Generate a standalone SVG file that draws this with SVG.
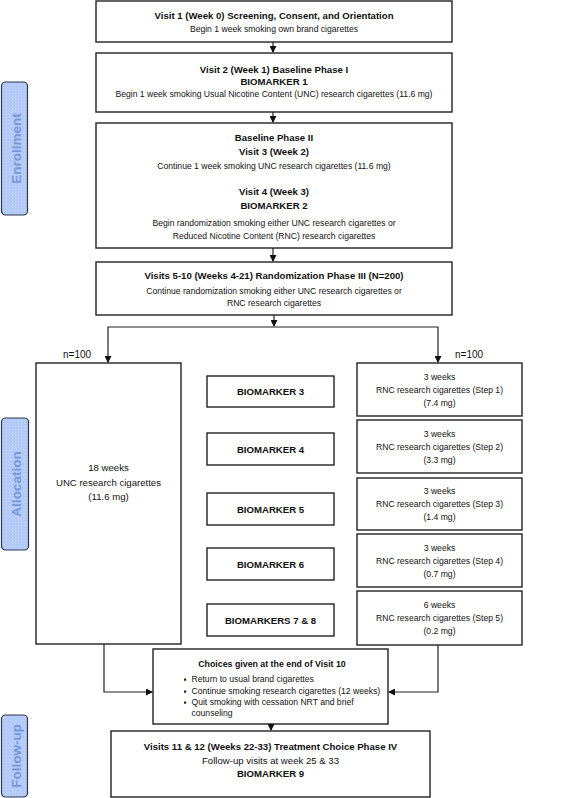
<svg xmlns="http://www.w3.org/2000/svg" width="567" height="798" viewBox="0 0 567 798">
<defs>
<marker id="ah" markerWidth="7" markerHeight="7" refX="6" refY="3.5" orient="auto" markerUnits="userSpaceOnUse">
<path d="M0,0 L7,3.5 L0,7 Z" fill="#111"/>
</marker>
<pattern id="dots" width="3" height="3" patternUnits="userSpaceOnUse">
<rect width="3" height="3" fill="#b3c9f6"/>
<rect width="1" height="1" fill="#c6d6f8"/>
</pattern>
</defs>
<style>
.box{fill:#fff;stroke:#222;stroke-width:1.4}
.side{fill:url(#dots);stroke:#2b3652;stroke-width:1.2}
.sidet{font-family:"Liberation Sans",Arial,sans-serif;font-weight:bold;font-size:13.5px;fill:#7398dc;text-anchor:middle}
text{font-family:"Liberation Sans",Arial,Helvetica,sans-serif;fill:#111}
.b{font-weight:bold;font-size:9.6px;text-anchor:middle}
.n{font-size:8.6px;text-anchor:middle}
.l{font-size:8.6px}
.lab{font-size:10px}
.conn{fill:none;stroke:#222;stroke-width:1.2}
</style>
<rect width="567" height="798" fill="#fff"/>

<g id="side-enrollment">
<rect class="side" x="1.5" y="82" width="26" height="133" rx="4"/>
<text class="sidet" transform="translate(20.5,148.5) rotate(-90)">Enrollment</text>
</g>
<g id="side-allocation">
<rect class="side" x="1.5" y="418" width="27" height="132" rx="4"/>
<text class="sidet" transform="translate(21,484) rotate(-90)">Allocation</text>
</g>
<g id="side-followup">
<rect class="side" x="1.5" y="715" width="26" height="82" rx="4"/>
<text class="sidet" transform="translate(20.5,756) rotate(-90)">Follow-up</text>
</g>

<g id="visit1">
<rect class="box" x="96" y="1" width="356" height="41"/>
<text class="b" x="274" y="19">Visit 1 (Week 0) Screening, Consent, and Orientation</text>
<text class="n" x="274" y="32">Begin 1 week smoking own brand cigarettes</text>
</g>
<g id="visit2">
<rect class="box" x="96" y="53" width="356" height="59"/>
<text class="b" x="274" y="73">Visit 2 (Week 1) Baseline Phase I</text>
<text class="b" x="274" y="85">BIOMARKER 1</text>
<text class="n" x="274" y="97">Begin 1 week smoking Usual Nicotine Content (UNC) research cigarettes (11.6 mg)</text>
</g>
<g id="baseline2">
<rect class="box" x="96" y="123" width="356" height="125"/>
<text class="b" x="274" y="141">Baseline Phase II</text>
<text class="b" x="274" y="155">Visit 3 (Week 2)</text>
<text class="n" x="274" y="169">Continue 1 week smoking UNC research cigarettes (11.6 mg)</text>
<text class="b" x="274" y="195">Visit 4 (Week 3)</text>
<text class="b" x="274" y="209">BIOMARKER 2</text>
<text class="n" x="274" y="226">Begin randomization smoking either UNC research cigarettes or</text>
<text class="n" x="274" y="239">Reduced Nicotine Content (RNC) research cigarettes</text>
</g>
<g id="visits5-10">
<rect class="box" x="96" y="262" width="356" height="53"/>
<text class="b" x="274" y="279">Visits 5-10 (Weeks 4-21) Randomization Phase III (N=200)</text>
<text class="n" x="274" y="294">Continue randomization smoking either UNC research cigarettes or</text>
<text class="n" x="274" y="306">RNC research cigarettes</text>
</g>

<g id="unc-arm">
<rect class="box" x="36" y="363" width="145" height="281"/>
<text class="n" x="108.5" y="471" style="font-size:9.6px">18 weeks</text>
<text class="n" x="108.5" y="486" style="font-size:9.6px">UNC research cigarettes</text>
<text class="n" x="108.5" y="500" style="font-size:9.6px">(11.6 mg)</text>
</g>

<g id="bm3"><rect class="box" x="207" y="376" width="127" height="31"/><text class="b" x="270.5" y="395">BIOMARKER 3</text></g>
<g id="bm4"><rect class="box" x="207" y="433" width="127" height="32"/><text class="b" x="270.5" y="452.5">BIOMARKER 4</text></g>
<g id="bm5"><rect class="box" x="207" y="493" width="127" height="32"/><text class="b" x="270.5" y="512.5">BIOMARKER 5</text></g>
<g id="bm6"><rect class="box" x="207" y="548" width="127" height="32"/><text class="b" x="270.5" y="567.5">BIOMARKER 6</text></g>
<g id="bm78"><rect class="box" x="207" y="604" width="127" height="32"/><text class="b" x="270.5" y="623.5">BIOMARKERS 7 &amp; 8</text></g>

<g id="rnc1"><rect class="box" x="357" y="363" width="165" height="53"/>
<text class="n" x="439.5" y="380">3 weeks</text><text class="n" x="439.5" y="393">RNC research cigarettes (Step 1)</text><text class="n" x="439.5" y="406">(7.4 mg)</text></g>
<g id="rnc2"><rect class="box" x="357" y="420" width="165" height="53"/>
<text class="n" x="439.5" y="437">3 weeks</text><text class="n" x="439.5" y="450">RNC research cigarettes (Step 2)</text><text class="n" x="439.5" y="463">(3.3 mg)</text></g>
<g id="rnc3"><rect class="box" x="357" y="478" width="165" height="52"/>
<text class="n" x="439.5" y="494">3 weeks</text><text class="n" x="439.5" y="507">RNC research cigarettes (Step 3)</text><text class="n" x="439.5" y="520">(1.4 mg)</text></g>
<g id="rnc4"><rect class="box" x="357" y="534" width="165" height="53"/>
<text class="n" x="439.5" y="551">3 weeks</text><text class="n" x="439.5" y="564">RNC research cigarettes (Step 4)</text><text class="n" x="439.5" y="577">(0.7 mg)</text></g>
<g id="rnc5"><rect class="box" x="357" y="591" width="165" height="54"/>
<text class="n" x="439.5" y="608">6 weeks</text><text class="n" x="439.5" y="621">RNC research cigarettes (Step 5)</text><text class="n" x="439.5" y="634">(0.2 mg)</text></g>

<g id="choices">
<rect class="box" x="153" y="649" width="235" height="75"/>
<text class="b" x="272" y="667" style="font-size:8.8px">Choices given at the end of Visit 10</text>
<rect x="184" y="678.5" width="2.2" height="2.2" fill="#222"/>
<rect x="184" y="690.5" width="2.2" height="2.2" fill="#222"/>
<rect x="184" y="701.5" width="2.2" height="2.2" fill="#222"/>
<text class="l" x="191.5" y="682">Return to usual brand cigarettes</text>
<text class="l" x="191.5" y="694">Continue smoking research cigarettes (12 weeks)</text>
<text class="l" x="191.5" y="705">Quit smoking with cessation NRT and brief</text>
<text class="l" x="191.5" y="716">counseling</text>
</g>

<g id="visits11-12">
<rect class="box" x="111" y="731" width="319" height="66"/>
<text class="b" x="270.5" y="750">Visits 11 &amp; 12 (Weeks 22-33) Treatment Choice Phase IV</text>
<text class="n" x="270.5" y="763.5" style="font-size:9.6px">Follow-up visits at week 25 &amp; 33</text>
<text class="b" x="270.5" y="777">BIOMARKER 9</text>
</g>

<g id="labels">
<text class="lab" x="63" y="358">n=100</text>
<text class="lab" x="455" y="358">n=100</text>
</g>

<g id="connectors">
<path class="conn" d="M273,42 V52" marker-end="url(#ah)"/>
<path class="conn" d="M273,112 V122" marker-end="url(#ah)"/>
<path class="conn" d="M273,248 V261" marker-end="url(#ah)"/>
<path class="conn" d="M274,315 V326" marker-end="url(#ah)"/>
<path class="conn" d="M108,340 V327 H438 V340"/>
<path class="conn" d="M108,340 V362" marker-end="url(#ah)"/>
<path class="conn" d="M438,340 V362" marker-end="url(#ah)"/>
<path class="conn" d="M104,644 V692 H152" marker-end="url(#ah)"/>
<path class="conn" d="M438,645 V692 H389" marker-end="url(#ah)"/>
<path class="conn" d="M271,724 V730" marker-end="url(#ah)"/>
</g>
</svg>
